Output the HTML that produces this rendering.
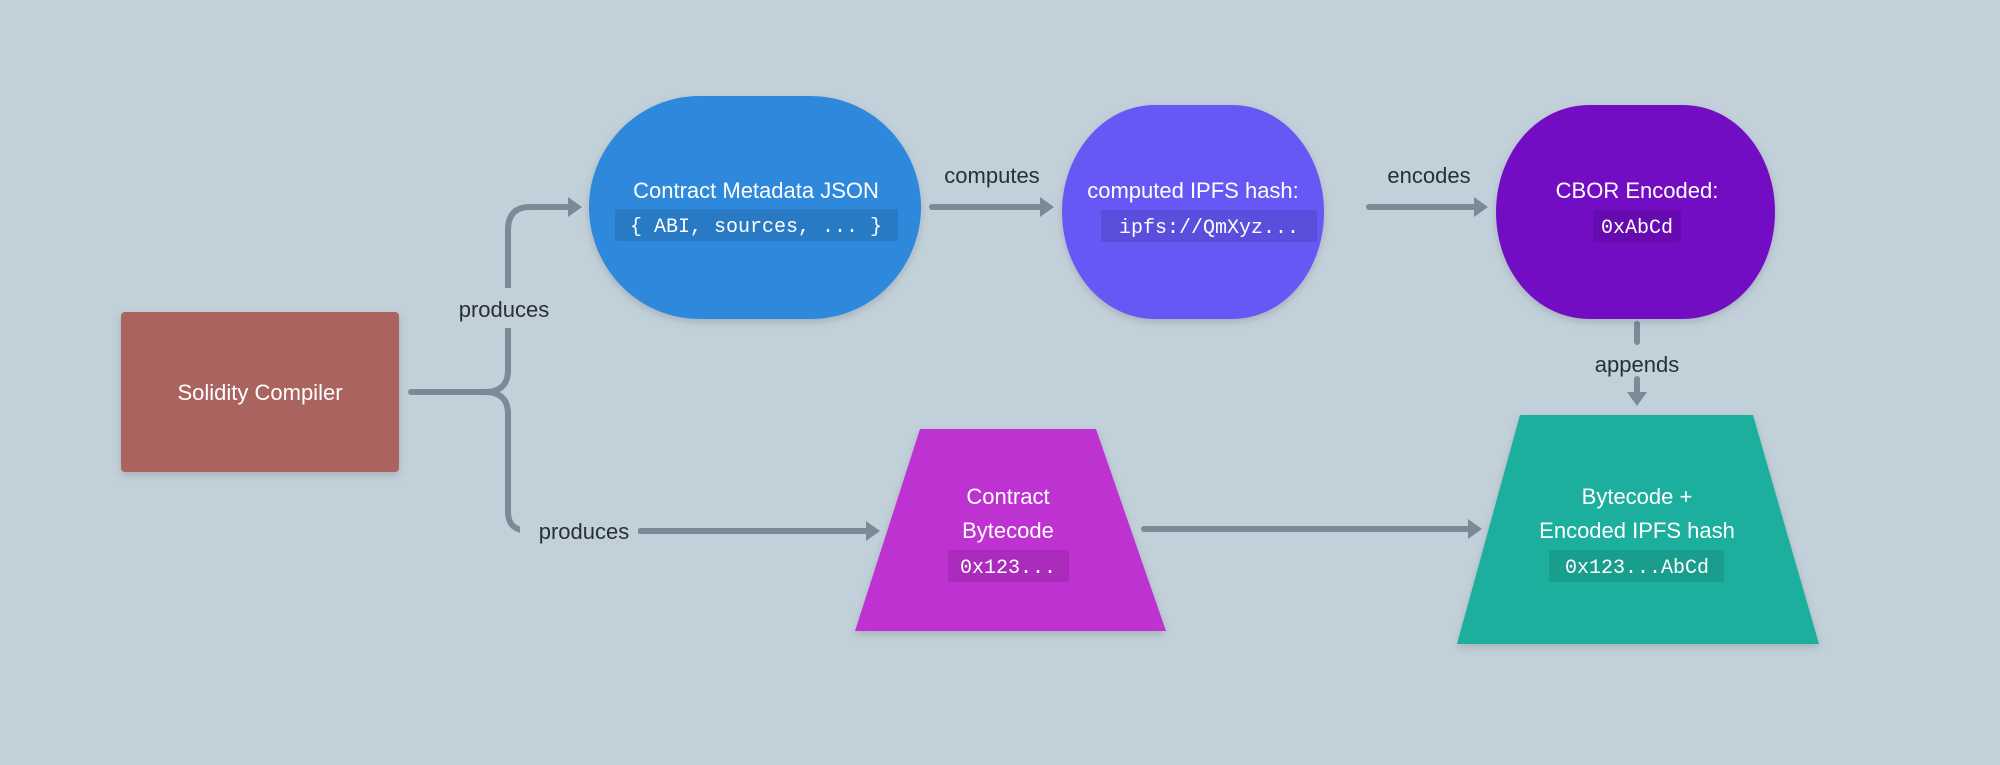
<!DOCTYPE html>
<html><head><meta charset="utf-8"><style>
html,body{margin:0;padding:0;background:#c2d0da;}
svg{display:block;}
.t{font-family:"Liberation Sans",sans-serif;font-size:22px;fill:#fff;text-anchor:middle;}
.l{font-family:"Liberation Sans",sans-serif;font-size:22px;fill:#26303a;text-anchor:middle;}
.c{font-family:"Liberation Mono",monospace;font-size:20px;fill:#fff;text-anchor:middle;}
</style></head><body>
<svg width="2000" height="765" viewBox="0 0 2000 765" xmlns="http://www.w3.org/2000/svg">
<defs>
<filter id="sh" x="-10%" y="-10%" width="120%" height="130%"><feDropShadow dx="0" dy="3" stdDeviation="4" flood-color="#000" flood-opacity="0.15"/></filter>
</defs>
<rect width="2000" height="765" fill="#c2d0da"/>
<g stroke="#7a8a96" stroke-width="6" fill="none" stroke-linecap="round">
<path d="M411 392 H485 Q508 392 508 370 V230 Q508 207 530 207 H570"/>
<path d="M485 392 Q508 392 508 414 V512 Q508 531 530 531"/>
<path d="M640 531 H868"/>
<path d="M932 207 H1042"/>
<path d="M1369 207 H1476"/>
<path d="M1144 529 H1470"/>
<path d="M1637 324 V342"/>
<path d="M1637 379 V394"/>
</g>
<rect x="440" y="288" width="136" height="40" fill="#c2d0da"/>
<rect x="520" y="514" width="118" height="36" fill="#c2d0da"/>
<g fill="#7a8a96">
<polygon points="568,197 582,207 568,217"/>
<polygon points="866,521 880,531 866,541"/>
<polygon points="1040,197 1054,207 1040,217"/>
<polygon points="1474,197 1488,207 1474,217"/>
<polygon points="1468,519 1482,529 1468,539"/>
<polygon points="1627,392 1637,406 1647,392"/>
</g>
<text class="l" x="504" y="317">produces</text>
<text class="l" x="584" y="539">produces</text>
<text class="l" x="992" y="183">computes</text>
<text class="l" x="1429" y="183">encodes</text>
<text class="l" x="1637" y="372">appends</text>
<g filter="url(#sh)">
<rect x="121" y="312" width="278" height="160" rx="4" fill="#ab6360"/>
<path d="M700 96 H810 C875 96 921 150 921 207 C921 265 875 319 810 319 H700 C635 319 589 265 589 207 C589 150 635 96 700 96 Z" fill="#2e88dc"/>
<path d="M1155 105 H1232 C1285 105 1324 155 1324 212 C1324 270 1285 319 1232 319 H1155 C1102 319 1062 270 1062 212 C1062 155 1102 105 1155 105 Z" fill="#6559f5"/>
<path d="M1590 105 H1682 C1737 105 1775 155 1775 212 C1775 270 1737 319 1682 319 H1590 C1535 319 1496 270 1496 212 C1496 155 1535 105 1590 105 Z" fill="#7310c4"/>
<polygon points="920,429 1096,429 1166,631 855,631" fill="#bf33d2"/>
<polygon points="1520,415 1753,415 1819,644 1457,644" fill="#1caf9e"/>
</g>
<text class="t" x="260" y="400">Solidity Compiler</text>
<text class="t" x="756" y="198">Contract Metadata JSON</text>
<rect x="615" y="209" width="283" height="32" rx="2" fill="#000" fill-opacity="0.1"/>
<text class="c" x="756" y="232">{ ABI, sources, ... }</text>
<text class="t" x="1193" y="198">computed IPFS hash:</text>
<rect x="1101" y="210" width="216" height="32" rx="2" fill="#000" fill-opacity="0.1"/>
<text class="c" x="1209" y="233">ipfs://QmXyz...</text>
<text class="t" x="1637" y="198">CBOR Encoded:</text>
<rect x="1593" y="210" width="88" height="32" rx="2" fill="#000" fill-opacity="0.1"/>
<text class="c" x="1637" y="233">0xAbCd</text>
<text class="t" x="1008" y="504">Contract</text>
<text class="t" x="1008" y="538">Bytecode</text>
<rect x="948" y="550" width="121" height="32" rx="2" fill="#000" fill-opacity="0.1"/>
<text class="c" x="1008" y="573">0x123...</text>
<text class="t" x="1637" y="504">Bytecode +</text>
<text class="t" x="1637" y="538">Encoded IPFS hash</text>
<rect x="1549" y="550" width="175" height="32" rx="2" fill="#000" fill-opacity="0.1"/>
<text class="c" x="1637" y="573">0x123...AbCd</text>
</svg>
</body></html>
